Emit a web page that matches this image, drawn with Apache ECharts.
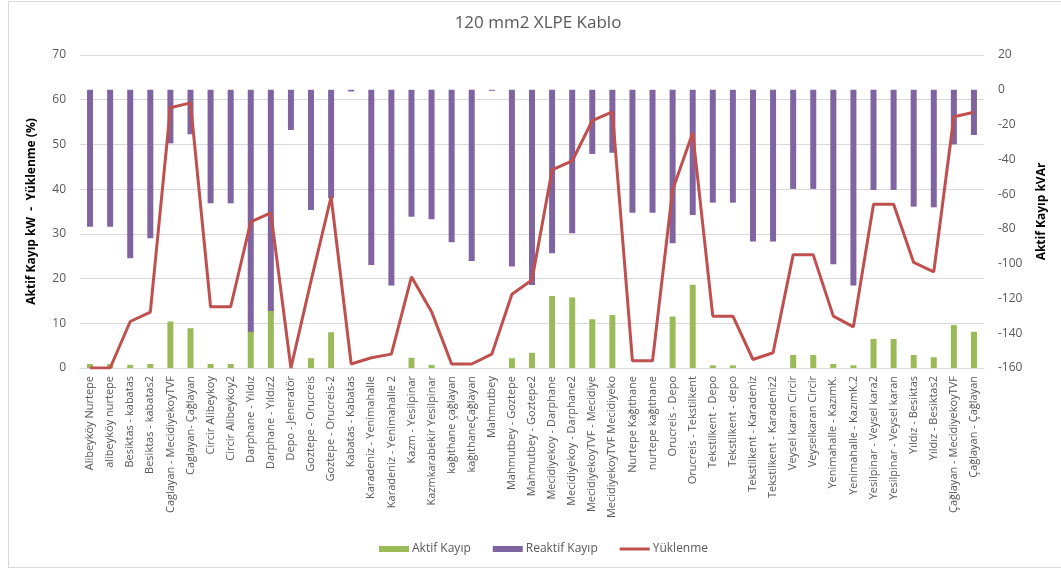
<!DOCTYPE html>
<html>
<head>
<meta charset="utf-8">
<title>120 mm2 XLPE Kablo</title>
<script src="https://cdn.jsdelivr.net/npm/echarts@6/dist/echarts.min.js"></script>
<style>
    html, body { margin: 0; padding: 0; background: #fff; }
    #chart { position: absolute; left: 8px; top: 1px; width: 1060px; height: 567px; border: 1px solid #d9d9d9; box-sizing: border-box; }
</style>
</head>
<body>
<div id="chart"></div>
<script>
// hat isimleri
var hatlar = [
    "Alibeyköy Nurtepe", "alibeyköy nurtepe", "Besiktas - kabatas", "Besiktas - kabatas2",
    "Caglayan - MecidiyekoyTVF", "Caglayan- Çağlayan", "Circir Alibeykoy", "Circir Alibeykoy2",
    "Darphane - Yıldız", "Darphane - Yıldız2", "Depo - Jeneratör", "Goztepe - Orucreis",
    "Goztepe - Orucreis-2", "Kabatas - Kabatas", "Karadeniz - Yenimahalle", "Karadeniz - Yenimahalle 2",
    "Kazm - Yesilpinar", "Kazmkarabekir Yesilpinar", "kağıthane çağlayan", "kağıthaneÇağlayan",
    "Mahmutbey", "Mahmutbey - Goztepe", "Mahmutbey - Goztepe2", "Mecidiyekoy - Darphane",
    "Mecidiyekoy - Darphane2", "MecidiyekoyTVF - Mecidiye", "MecidiyekoyTVF Mecidiyeko", "Nurtepe Kağıthane",
    "nurtepe kağıthane", "Orucreis - Depo", "Orucreis - Tekstilkent", "Tekstilkent - Depo",
    "Tekstilkent - depo", "Tekstilkent - Karadeniz", "Tekstilkent - Karadeniz2", "Veysel karan Circir",
    "Veyselkaran Circir", "Yenimahalle - KazımK.", "Yenimahalle - KazımK.2", "Yesilpinar - Veysel kara2",
    "Yesilpinar - Veysel karan", "Yıldız - Besiktas", "Yıldız - Besiktas2", "Çağlayan - MecidiyekoyTVF",
    "Çağlayan - Çağlayan"
];

// kW
var aktifKayip = [
    0.9, 0.9, 0.7, 0.9, 10.4, 8.9, 0.9, 0.9, 8.1, 12.75,
    0, 2.2, 8.0, 0, 0, 0, 2.3, 0.7, 0, 0,
    0, 2.2, 3.4, 16.1, 15.8, 10.9, 11.85, 0, 0, 11.5,
    18.6, 0.6, 0.6, 0, 0, 2.9, 2.9, 0.9, 0.6, 6.5,
    6.5, 2.9, 2.4, 9.6, 8.1
];

// kVAr
var reaktifKayip = [
    -78.7, -78.7, -96.9, -85.4, -30.8, -25.6, -65.3, -65.3, -140, -128,
    -23.1, -69.1, -62.4, -1, -100.7, -112.6, -73, -74.5, -87.7, -98.4,
    -0.6, -101.7, -112.2, -94, -82.5, -36.9, -36.2, -70.7, -70.7, -88.3,
    -72, -64.9, -64.9, -87.3, -87.3, -57, -57, -100.4, -112.6, -57.6,
    -57.6, -67.2, -67.6, -31.4, -26
];

// %
var yuklenme = [
    0, 0, 10.4, 12.5, 58.2, 59.3, 13.7, 13.7, 32.7, 34.7,
    0, 19.5, 38.3, 0.9, 2.3, 3.1, 20.4, 12.6, 0.9, 0.9,
    3.1, 16.5, 19.7, 44.3, 46.3, 55.3, 57.3, 1.6, 1.6, 39.8,
    52.6, 11.6, 11.6, 1.9, 3.4, 25.3, 25.3, 11.6, 9.2, 36.6,
    36.6, 23.6, 21.5, 56.2, 57.2
];

var solEksen = { min: 0, max: 70, interval: 10 };
var sagEksen = { min: -160, max: 20, interval: 20 };

var yaziRengi = "#595959",
    yazi = "'Open Sans', 'Noto Sans', sans-serif",
    // ince çizgi ikonu (üst/alt boş alt yollar kutuyu 30x6 tutar)
    cizgiIkon = "path://M0,0 L30,0 Z M0,1.5 L30,1.5 L30,4.5 L0,4.5 Z M0,6 L30,6 Z";

var myChart = echarts.init(document.getElementById("chart"));

var option = {
    animation: false,
    textStyle: { fontFamily: yazi },
    title: {
        text: "120 mm2 XLPE Kablo",
        left: "center",
        top: 8,
        textStyle: { color: yaziRengi, fontSize: 17, fontWeight: "normal", fontFamily: yazi }
    },
    legend: {
        bottom: 7,
        left: 365,
        itemGap: 22,
        itemWidth: 30,
        itemHeight: 6,
        textStyle: { color: yaziRengi, fontSize: 12, padding: [0, 0, 0, -2] },
        data: [
            { name: "Aktif Kayıp", icon: "rect" },
            { name: "Reaktif Kayıp", icon: "rect" },
            { name: "Yüklenme", icon: cizgiIkon }
        ]
    },
    grid: { left: 71, right: 83, top: 53, bottom: 199, containLabel: false },
    xAxis: {
        type: "category",
        data: hatlar,
        axisTick: { show: false },
        axisLine: { lineStyle: { color: "#d9d9d9" } },
        axisLabel: { interval: 0, rotate: 90, color: yaziRengi, fontSize: 11, margin: 8 }
    },
    yAxis: [{
        type: "value",
        min: solEksen.min,
        max: solEksen.max,
        interval: solEksen.interval,
        name: "Aktif Kayıp kW  -  Yüklenme (%)",
        nameLocation: "middle",
        nameRotate: 90,
        nameGap: 42,
        nameTextStyle: { color: "#000", fontSize: 12, fontWeight: "bold" },
        axisLabel: { color: yaziRengi, fontSize: 12, margin: 14 },
        axisLine: { show: false },
        axisTick: { show: false },
        splitLine: { lineStyle: { color: "#d9d9d9" } }
    }, {
        type: "value",
        min: sagEksen.min,
        max: sagEksen.max,
        interval: sagEksen.interval,
        name: "Aktif Kayıp kVAr",
        nameLocation: "middle",
        nameRotate: 90,
        nameGap: 52,
        nameTextStyle: { color: "#000", fontSize: 12, fontWeight: "bold" },
        axisLabel: { color: yaziRengi, fontSize: 12, margin: 14 },
        axisLine: { show: false },
        axisTick: { show: false },
        splitLine: { show: false }
    }],
    series: [{
        name: "Reaktif Kayıp",
        type: "bar",
        yAxisIndex: 1,
        barWidth: 6,
        barGap: "-100%",
        itemStyle: { color: "#8064A2" },
        data: reaktifKayip
    }, {
        name: "Aktif Kayıp",
        type: "bar",
        yAxisIndex: 0,
        barWidth: 6,
        barGap: "-100%",
        z: 3,
        itemStyle: { color: "#9BBB59" },
        data: aktifKayip
    }, {
        name: "Yüklenme",
        type: "line",
        yAxisIndex: 0,
        symbol: "none",
        z: 4,
        lineStyle: { color: "#C0504D", width: 3 },
        itemStyle: { color: "#C0504D" },
        data: yuklenme
    }]
};

myChart.setOption(option);
</script>
</body>
</html>
